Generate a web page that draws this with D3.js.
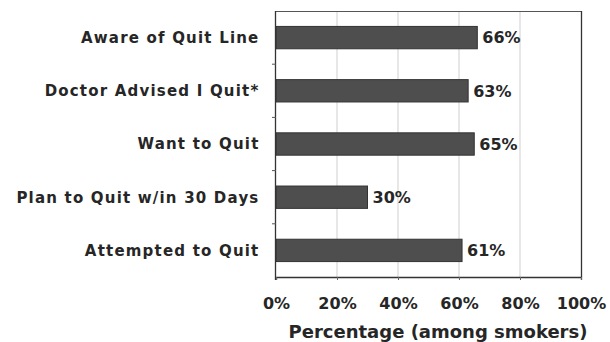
<!DOCTYPE html>
<html><head><meta charset="utf-8">
<script src="https://cdn.jsdelivr.net/npm/d3@7"></script>
<style>
html,body{margin:0;padding:0;background:#fff;}
svg{display:block;font-family:"DejaVu Sans",sans-serif;font-weight:bold;}
</style></head>
<body>
<svg id="chart" width="610" height="342"></svg>
<script>
const categories = ["Aware of Quit Line","Doctor Advised I Quit*","Want to Quit","Plan to Quit w/in 30 Days","Attempted to Quit"];
const values = [66, 63, 65, 30, 61];
const xTicks = [0, 20, 40, 60, 80, 100];
const xTitle = "Percentage (among smokers)";

const svg = d3.select("#chart");
const m = {left:276, right:29, top:11, bottom:65};
const W = 610, H = 342;
const x = d3.scaleLinear().domain([0,100]).range([m.left, W - m.right]);
const y = d3.scaleBand().domain(categories).range([m.top, H - m.bottom]).paddingInner(0.58).paddingOuter(0.29);
const yb = d3.scaleBand().domain(categories).range([m.top, H - m.bottom]);
const ink = "#262626";

// gridlines
svg.append("g").selectAll("line").data(xTicks.slice(1,-1)).join("line")
  .attr("x1", d=>x(d)).attr("x2", d=>x(d))
  .attr("y1", m.top).attr("y2", H - m.bottom)
  .attr("stroke", "#cfcfcf").attr("stroke-width", 1);

// frame
svg.append("line").attr("x1", x(0)).attr("x2", x(100)).attr("y1", m.top+0.5).attr("y2", m.top+0.5).attr("stroke","#555").attr("stroke-width",1);
svg.append("line").attr("x1", x(100)+0.5).attr("x2", x(100)+0.5).attr("y1", m.top).attr("y2", H-m.bottom).attr("stroke","#333").attr("stroke-width",1.3);

// bars
svg.append("g").selectAll("rect").data(categories).join("rect")
  .attr("x", x(0)).attr("y", d=>y(d))
  .attr("width", (d,i)=>x(values[i]) - x(0))
  .attr("height", y.bandwidth())
  .attr("fill", "#4e4e4e").attr("stroke", "#333").attr("stroke-width", 1);

// value labels
svg.append("g").selectAll("text").data(categories).join("text")
  .attr("x", (d,i)=>x(values[i]) + 5)
  .attr("y", d=>y(d) + y.bandwidth()/2)
  .attr("dy", "0.36em")
  .attr("font-size", 16)
  .attr("fill", ink)
  .text((d,i)=>values[i] + "%");

// y axis line and band-boundary ticks
svg.append("line").attr("x1", x(0)-0.5).attr("x2", x(0)-0.5).attr("y1", m.top).attr("y2", H-m.bottom+3).attr("stroke","#333").attr("stroke-width",1.3);
svg.append("g").selectAll("line").data(categories.slice(1)).join("line")
  .attr("x1", x(0)-4).attr("x2", x(0))
  .attr("y1", d=>yb(d)).attr("y2", d=>yb(d))
  .attr("stroke","#555").attr("stroke-width",1);

// category labels
svg.append("g").selectAll("text").data(categories).join("text")
  .attr("x", x(0) - 16.5)
  .attr("y", d=>yb(d) + yb.bandwidth()/2)
  .attr("dy", "0.36em")
  .attr("text-anchor", "end")
  .attr("font-size", 15).attr("letter-spacing", 1.2)
  .attr("fill", ink)
  .text(d=>d);

// x axis
const xAxis = d3.axisBottom(x).tickValues(xTicks).tickSize(3).tickFormat(d=>d + "%");
const xg = svg.append("g").attr("transform", `translate(0,${H - m.bottom})`).call(xAxis);
xg.select(".domain").attr("stroke","#333").attr("stroke-width",1.3);
xg.selectAll(".tick line").attr("stroke","#666");
xg.selectAll(".tick text")
  .attr("y", 21).attr("dy", "0.71em")
  .attr("font-size", 16)
  .attr("font-family", "DejaVu Sans, sans-serif").attr("font-weight","bold")
  .attr("fill", ink);

// x title
svg.append("text")
  .attr("x", 438).attr("y", 338)
  .attr("text-anchor", "middle")
  .attr("font-size", 18)
  .attr("fill", ink)
  .text(xTitle);
</script>
</body></html>
